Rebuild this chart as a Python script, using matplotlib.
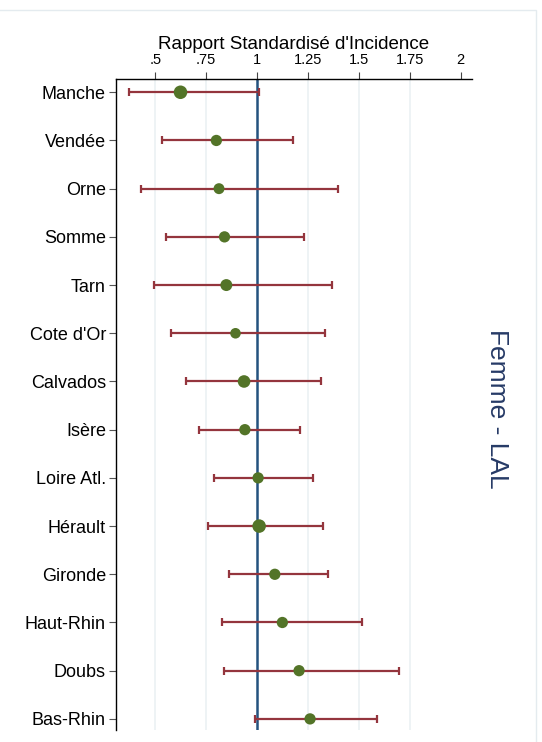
import matplotlib
matplotlib.use("Agg")
import matplotlib.pyplot as plt
from matplotlib.patches import Rectangle

plt.rcParams["font.family"] = ["Liberation Sans", "DejaVu Sans"]

# departments, top to bottom
depts = ["Manche", "Vendée", "Orne", "Somme", "Tarn", "Cote d'Or", "Calvados",
         "Isère", "Loire Atl.", "Hérault", "Gironde", "Haut-Rhin", "Doubs", "Bas-Rhin"]
sir = [0.624, 0.80, 0.813, 0.84, 0.849, 0.894, 0.936,
       0.94, 1.005, 1.01, 1.087, 1.124, 1.206, 1.26]
ci_low = [0.37, 0.534, 0.432, 0.552, 0.496, 0.579, 0.651,
          0.715, 0.79, 0.761, 0.861, 0.827, 0.837, 0.99]
ci_high = [1.01, 1.175, 1.396, 1.229, 1.367, 1.334, 1.313,
           1.213, 1.275, 1.322, 1.349, 1.515, 1.697, 1.588]
# marker weight (bigger dot = more cases)
weight = [95, 66, 62, 66, 74, 58, 82, 66, 66, 95, 66, 66, 66, 66]

xticks = [0.5, 0.75, 1, 1.25, 1.5, 1.75, 2]
xticklabels = [".5", ".75", "1", "1.25", "1.5", "1.75", "2"]

RED = "#94353d"
GREEN = "#537428"
BLUE = "#24527f"

fig = plt.figure(figsize=(5.42, 7.42), dpi=100)
ax = fig.add_axes([0.2135, 0.0162, 0.657, 0.877])

pos = list(range(len(depts)))
for x in xticks[:-1]:
    if x != 1:
        ax.axvline(x, color="#ebf1f4", lw=1.2, zorder=0)
ax.axvline(1, color=BLUE, lw=1.8, zorder=1)

xerr = [[s - lo for s, lo in zip(sir, ci_low)], [hi - s for s, hi in zip(sir, ci_high)]]
ax.errorbar(sir, pos, xerr=xerr, fmt="none", ecolor=RED, elinewidth=1.6,
            capsize=3, capthick=1.6, zorder=2)
ax.scatter(sir, pos, s=weight, color=GREEN, zorder=3, linewidths=0)

ax.set_xlim(0.306, 2.054)
ax.set_ylim(13.23, -0.27)
ax.set_yticks(pos)
ax.set_yticklabels(depts, fontsize=13)
ax.set_xticks(xticks)
ax.set_xticklabels(xticklabels, fontsize=10.5)
ax.xaxis.tick_top()
ax.xaxis.set_label_position("top")
ax.set_xlabel("Rapport Standardisé d'Incidence", fontsize=13.5, labelpad=3)
ax.tick_params(axis="x", length=5, width=0.8, color="#444444", pad=4)
ax.tick_params(axis="y", length=5, width=0.8, color="#555555", pad=2)
for side in ("right", "bottom"):
    ax.spines[side].set_visible(False)
for side in ("left", "top"):
    ax.spines[side].set_linewidth(1.0)
    ax.spines[side].set_color("black")

fig.text(0.917, 0.4495, "Femme - LAL", rotation=-90, fontsize=19, color="#263a66",
         ha="center", va="center")

# faint graph-region outline
fig.add_artist(Rectangle((-0.01, -0.01), 0.999, 0.9965, transform=fig.transFigure,
                         fill=False, edgecolor="#e4ebef", lw=1.0))

fig.savefig("out.png", dpi=100)
